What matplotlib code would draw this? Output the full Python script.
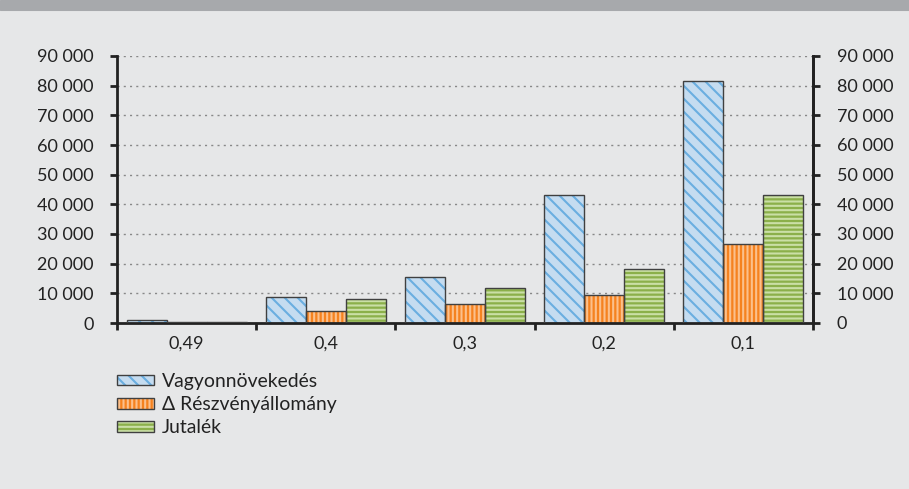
import matplotlib as mpl
mpl.use('Agg')
import matplotlib.pyplot as plt
import matplotlib.patches as mpatches
from matplotlib.legend_handler import HandlerTuple
from matplotlib.ticker import FuncFormatter
import numpy as np

# data
categories = ['0,49', '0,4', '0,3', '0,2', '0,1']
vagyon = [1000, 8800, 15500, 43100, 81700]
reszveny = [250, 4000, 6400, 9400, 26600]
jutalek = [300, 8100, 11900, 18300, 43000]
labels = ['Vagyonnövekedés', '\u0394 Részvényállomány', 'Jutalék']

# lower dpi so the hatch spacing matches; sizes below are scaled back up
DPI = 78
S = 100 / DPI

plt.rcParams['font.family'] = ['Lato', 'DejaVu Sans']
plt.rcParams['hatch.linewidth'] = 1.5 * S

bg = '#e6e7e8'
fig = plt.figure(figsize=(909 / DPI, 489 / DPI), dpi=DPI, facecolor=bg)
fig.patches.append(mpatches.Rectangle((0, 1 - 10 / 489), 1, 10 / 489,
                                      transform=fig.transFigure, color='#a7a9ac'))
ax = fig.add_axes([117 / 909, 166 / 489, 696 / 909, 267 / 489])
ax.set_facecolor(bg)

# fill colour, hatch colour, hatch
styles = [('#c5dcf0', '#6aaee0', '\\\\'),
          ('#f5821f', '#fbc08c', '|||'),
          ('#8bb04a', '#cadfa6', '---')]
series = [vagyon, reszveny, jutalek]
x = np.arange(len(categories))
w = 0.287
handles = []
for j, (vals, (fc, hc, h)) in enumerate(zip(series, styles)):
    pos = x + (j - 1) * w
    ax.bar(pos, vals, w, color=fc, edgecolor=hc, hatch=h, linewidth=0, zorder=2)
    ax.bar(pos, vals, w, fill=False, edgecolor='#404040', linewidth=1.0 * S, zorder=3)
    p1 = mpatches.Patch(facecolor=fc, edgecolor=hc, hatch=h, linewidth=0)
    p2 = mpatches.Patch(fill=False, edgecolor='#404040', linewidth=1.0 * S)
    handles.append((p1, p2))

ax.set_xlim(-0.5, len(categories) - 0.5)
ax.set_ylim(0, 90000)
ax.set_yticks(np.arange(0, 90001, 10000))
fmt = FuncFormatter(lambda v, p: f'{int(v):,}'.replace(',', ' '))
ax.yaxis.set_major_formatter(fmt)
ax.set_xticks(x)
ax.set_xticklabels(categories)
ax.set_xticks(np.arange(-0.5, len(categories)), minor=True)
ax.tick_params(axis='x', which='major', length=0, pad=9 * S, labelsize=13 * S,
               colors='#222222')
ax.tick_params(axis='x', which='minor', length=5 * S, width=2 * S, color='#222222')
ax.tick_params(axis='y', length=5 * S, width=2 * S, pad=12 * S, labelsize=13 * S,
               color='#222222', labelcolor='#222222')

ax.grid(axis='y', color='#888888', linestyle=(0, (1.5, 3)), linewidth=1 * S, zorder=1)
ax.set_axisbelow(True)
ax.spines['top'].set_visible(False)
for s in ['left', 'bottom', 'right']:
    ax.spines[s].set_linewidth(2 * S)
    ax.spines[s].set_color('#222222')

ax2 = ax.twinx()
ax2.set_ylim(0, 90000)
ax2.set_yticks(np.arange(0, 90001, 10000))
ax2.yaxis.set_major_formatter(fmt)
ax2.tick_params(axis='y', length=5 * S, width=2 * S, pad=12 * S, labelsize=13 * S,
                color='#222222', labelcolor='#222222')
for s in ['top', 'left', 'bottom']:
    ax2.spines[s].set_visible(False)
ax2.spines['right'].set_linewidth(2 * S)
ax2.spines['right'].set_color('#222222')

leg = fig.legend(handles, labels, handler_map={tuple: HandlerTuple(ndivide=1)},
                 loc='upper left', bbox_to_anchor=(117 / 909, 1 - 373 / 489),
                 frameon=False, fontsize=14 * S, handlelength=1.9, handleheight=0.46,
                 handletextpad=0.4, labelspacing=0.32, borderaxespad=0, borderpad=0)
for t in leg.get_texts():
    t.set_color('#222222')

fig.savefig('out.png', dpi=DPI, facecolor=bg)
